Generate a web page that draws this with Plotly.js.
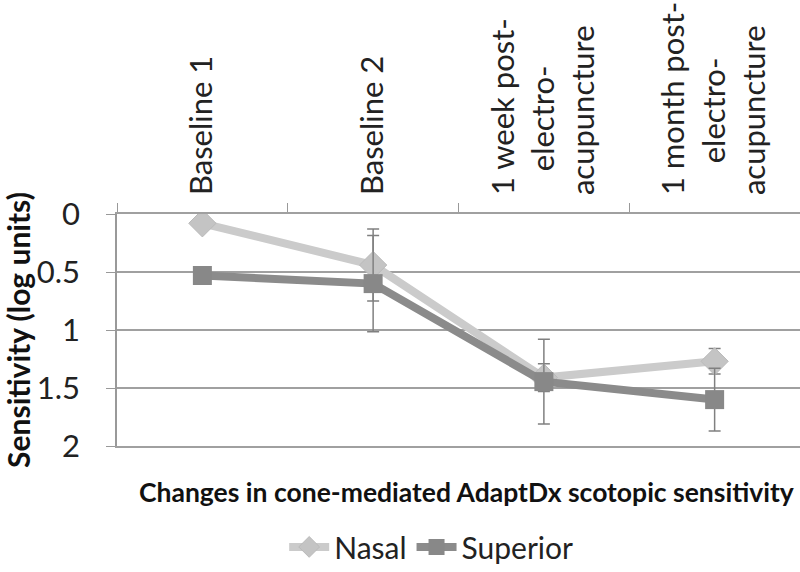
<!DOCTYPE html>
<html>
<head>
<meta charset="utf-8">
<script src="https://cdn.plot.ly/plotly-3.0.1.min.js"></script>
<style>
  html, body { margin: 0; padding: 0; background: #fff; }
  #chart { width: 800px; height: 572px; }
</style>
</head>
<body>
<div id="chart"></div>
<script>
// categories (x axis, drawn on top); the nbsp's centre the middle line like the original
const timepoints = [
  "Baseline 1",
  "Baseline 2",
  "1 week post-<br>\u00a0\u00a0\u00a0electro-<br>acupuncture",
  "1 month post-<br>\u00a0\u00a0\u00a0\u00a0electro-<br>acupuncture"
];

// sensitivity in log units (axis reversed)
const nasal = [0.08, 0.44, 1.41, 1.27];
const nasalErr = [0, 0.31, 0.12, 0.11];
const superior = [0.53, 0.60, 1.445, 1.60];
const superiorErr = [0, 0.415, 0.365, 0.27];

const yTicks = [0, 0.5, 1, 1.5, 2];

const fontFam = "Lato, 'Open Sans', sans-serif";

const traceNasal = {
  x: timepoints,
  y: nasal,
  name: "Nasal",
  type: "scatter",
  mode: "lines+markers",
  line: { color: "#cbcbcb", width: 8 },
  marker: { symbol: "diamond", size: 21, color: "#c4c4c4", line: { color: "#bababa", width: 1 } },
  error_y: { type: "data", array: nasalErr, visible: true, color: "#808080", thickness: 1.5, width: 6 }
};

const traceSuperior = {
  x: timepoints,
  y: superior,
  name: "Superior",
  type: "scatter",
  mode: "lines+markers",
  line: { color: "#8b8b8b", width: 8 },
  marker: { symbol: "square", size: 19, color: "#888888" },
  error_y: { type: "data", array: superiorErr, visible: true, color: "#808080", thickness: 1.5, width: 6 }
};

const layout = {
  width: 800,
  height: 572,
  margin: { l: 117, r: 0, t: 214, b: 126, autoexpand: false },
  paper_bgcolor: "#fff",
  plot_bgcolor: "#fff",
  font: { family: fontFam, color: "#222" },
  showlegend: true,
  legend: {
    orientation: "h",
    x: 0.46, xanchor: "center",
    y: -0.435, yanchor: "middle",
    font: { size: 30, color: "#222" },
    itemwidth: 40
  },
  xaxis: {
    side: "top",
    type: "category",
    tickangle: -90,
    tickson: "boundaries",
    ticks: "outside",
    ticklen: 9,
    tickcolor: "#999",
    ticklabelstandoff: 11,
    tickfont: { size: 31, color: "#222" },
    showgrid: false,
    showline: true,
    mirror: true,
    linecolor: "#a0a0a0",
    linewidth: 1.5,
    zeroline: false,
    range: [-0.5, 3.5]
  },
  yaxis: {
    range: [2, 0],
    tickvals: yTicks,
    ticktext: yTicks.map(String),
    ticks: "outside",
    ticklen: 9,
    tickcolor: "#999",
    ticklabelstandoff: 20,
    tickfont: { size: 31, color: "#222" },
    showline: true,
    linecolor: "#999",
    linewidth: 1.5,
    showgrid: true,
    gridcolor: "#a0a0a0",
    gridwidth: 1.5,
    zeroline: false,
    title: { text: "<b>Sensitivity (log units)</b>", font: { size: 30, color: "#111" }, standoff: 2 }
  },
  annotations: [{
    text: "<b>Changes in cone-mediated AdaptDx scotopic sensitivity</b>",
    xref: "paper", yref: "paper",
    x: 0.512, y: -0.198,
    xanchor: "center", yanchor: "middle",
    showarrow: false,
    font: { size: 26.5, color: "#111" }
  }]
};

Plotly.newPlot("chart", [traceNasal, traceSuperior], layout, { displayModeBar: false });
</script>
</body>
</html>
